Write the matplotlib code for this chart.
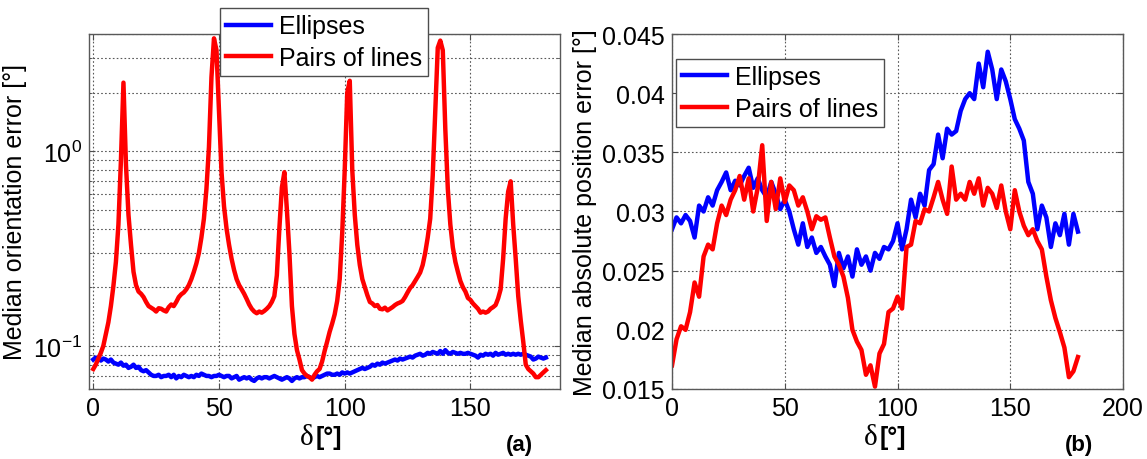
import matplotlib

matplotlib.use("Agg")
import matplotlib.pyplot as plt
import numpy as np
from matplotlib.ticker import FixedLocator, FuncFormatter, LogLocator, NullFormatter

plt.rcParams["font.family"] = ["Liberation Sans", "DejaVu Sans"]
plt.rcParams["mathtext.default"] = "regular"

BLUE, RED = "#0000ff", "#ff0000"
LABELS = ["Ellipses", "Pairs of lines"]

# (a) median orientation error, 1 degree steps
delta_a = np.arange(0, 181, 1)
orient_ellipses = [
    0.085, 0.087, 0.086, 0.084, 0.086, 0.085, 0.083, 0.085, 0.082, 0.081,
    0.080, 0.082, 0.079, 0.080, 0.077, 0.078, 0.080, 0.077, 0.078, 0.075,
    0.074, 0.075, 0.073, 0.071, 0.070, 0.070, 0.071, 0.069, 0.070, 0.070,
    0.071, 0.069, 0.071, 0.068, 0.070, 0.069, 0.071, 0.070, 0.069, 0.070,
    0.069, 0.071, 0.070, 0.072, 0.071, 0.070, 0.070, 0.069, 0.070, 0.070,
    0.071, 0.070, 0.069, 0.070, 0.070, 0.068, 0.069, 0.070, 0.067, 0.068,
    0.069, 0.068, 0.069, 0.067, 0.066, 0.068, 0.069, 0.068, 0.069, 0.069,
    0.068, 0.069, 0.070, 0.069, 0.068, 0.067, 0.068, 0.069, 0.068, 0.066,
    0.068, 0.069, 0.068, 0.069, 0.069, 0.070, 0.069, 0.068, 0.069, 0.070,
    0.069, 0.070, 0.071, 0.072, 0.072, 0.071, 0.071, 0.072, 0.071, 0.073,
    0.072, 0.073, 0.072, 0.073, 0.074, 0.075, 0.076, 0.077, 0.076, 0.077,
    0.078, 0.080, 0.079, 0.081, 0.080, 0.082, 0.081, 0.082, 0.083, 0.084,
    0.085, 0.084, 0.086, 0.085, 0.086, 0.087, 0.088, 0.087, 0.089, 0.090,
    0.091, 0.089, 0.090, 0.092, 0.091, 0.093, 0.092, 0.091, 0.094, 0.091,
    0.095, 0.092, 0.091, 0.093, 0.092, 0.091, 0.092, 0.091, 0.091, 0.092,
    0.091, 0.090, 0.089, 0.087, 0.090, 0.089, 0.091, 0.090, 0.091, 0.089,
    0.092, 0.090, 0.091, 0.092, 0.090, 0.091, 0.090, 0.091, 0.090, 0.091,
    0.090, 0.091, 0.090, 0.089, 0.088, 0.085, 0.086, 0.088, 0.087, 0.086,
    0.087,
]
orient_lines = [
    0.076, 0.080, 0.086, 0.092, 0.100, 0.115, 0.132, 0.160, 0.203, 0.270,
    0.42, 0.90, 2.25, 0.85, 0.47, 0.33, 0.24, 0.205, 0.19, 0.185,
    0.178, 0.168, 0.160, 0.157, 0.154, 0.150, 0.156, 0.155, 0.152, 0.150,
    0.158, 0.163, 0.160, 0.168, 0.178, 0.184, 0.188, 0.195, 0.205, 0.22,
    0.24, 0.265, 0.30, 0.36, 0.45, 0.64, 1.05, 2.4, 3.8, 3.3,
    1.6, 0.78, 0.52, 0.40, 0.33, 0.28, 0.245, 0.22, 0.205, 0.195,
    0.185, 0.174, 0.163, 0.155, 0.150, 0.147, 0.150, 0.148, 0.151, 0.155,
    0.160, 0.168, 0.180, 0.23, 0.40, 0.65, 0.78, 0.50, 0.30, 0.16,
    0.115, 0.095, 0.085, 0.075, 0.072, 0.070, 0.069, 0.067, 0.071, 0.074,
    0.076, 0.083, 0.094, 0.105, 0.118, 0.130, 0.145, 0.170, 0.22, 0.38,
    0.80, 2.0, 2.3, 0.80, 0.47, 0.33, 0.26, 0.22, 0.20, 0.182,
    0.168, 0.165, 0.160, 0.162, 0.155, 0.154, 0.157, 0.152, 0.155, 0.158,
    0.162, 0.165, 0.167, 0.170, 0.178, 0.188, 0.198, 0.205, 0.215, 0.226,
    0.238, 0.26, 0.30, 0.36, 0.45, 0.75, 1.6, 3.4, 3.7, 3.3,
    1.3, 0.64, 0.42, 0.32, 0.27, 0.24, 0.215, 0.20, 0.19, 0.176,
    0.172, 0.165, 0.160, 0.155, 0.148, 0.150, 0.148, 0.150, 0.155, 0.158,
    0.162, 0.175, 0.195, 0.28, 0.45, 0.62, 0.70, 0.42, 0.28, 0.18,
    0.135, 0.105, 0.080, 0.076, 0.074, 0.072, 0.069, 0.069, 0.071, 0.073,
    0.075,
]

# (b) median absolute position error, 2 degree steps
delta_b = np.arange(0, 181, 2)
pos_ellipses = [
    0.0285, 0.0295, 0.0290, 0.0297, 0.0292, 0.0278, 0.0305, 0.0300, 0.0312, 0.0305,
    0.0318, 0.0325, 0.0333, 0.0318, 0.0326, 0.0322, 0.0330, 0.0337, 0.0320, 0.0328,
    0.0318, 0.0312, 0.0325, 0.0315, 0.0302, 0.0310, 0.0300, 0.0285, 0.0272, 0.0290,
    0.0270, 0.0278, 0.0265, 0.0270, 0.0262, 0.0255, 0.0237, 0.0265, 0.0252, 0.0262,
    0.0245, 0.0268, 0.0255, 0.0262, 0.0250, 0.0265, 0.0260, 0.0270, 0.0268, 0.0275,
    0.0290, 0.0268, 0.0285, 0.0310, 0.0295, 0.0315, 0.0305, 0.0335, 0.0340, 0.0365,
    0.0345, 0.0370, 0.0365, 0.0368, 0.0385, 0.0395, 0.0400, 0.0395, 0.0425, 0.0405,
    0.0435, 0.0420, 0.0395, 0.0420, 0.0410, 0.0395, 0.0378, 0.0370, 0.0360, 0.0325,
    0.0315, 0.0285, 0.0305, 0.0295, 0.0270, 0.0290, 0.0280, 0.0298, 0.0272, 0.0298,
    0.0283,
]
pos_lines = [
    0.0170, 0.0192, 0.0203, 0.0200, 0.0215, 0.0240, 0.0228, 0.0262, 0.0272, 0.0268,
    0.0290, 0.0305, 0.0297, 0.0310, 0.0318, 0.0330, 0.0310, 0.0328, 0.0300, 0.0320,
    0.0356, 0.0292, 0.0325, 0.0302, 0.0328, 0.0308, 0.0322, 0.0318, 0.0305, 0.0312,
    0.0300, 0.0285, 0.0296, 0.0293, 0.0295, 0.0278, 0.0262, 0.0255, 0.0245, 0.0227,
    0.0200, 0.0190, 0.0183, 0.0162, 0.0170, 0.0152, 0.0180, 0.0188, 0.0215, 0.0218,
    0.0228, 0.0218, 0.0270, 0.0272, 0.0292, 0.0290, 0.0302, 0.0300, 0.0312, 0.0325,
    0.0310, 0.0298, 0.0338, 0.0310, 0.0315, 0.0310, 0.0325, 0.0315, 0.0328, 0.0305,
    0.0320, 0.0315, 0.0303, 0.0322, 0.0300, 0.0285, 0.0318, 0.0300, 0.0288, 0.0280,
    0.0285, 0.0275, 0.0268, 0.0245, 0.0225, 0.0210, 0.0198, 0.0185, 0.0160, 0.0165,
    0.0177,
]

fig = plt.figure(figsize=(11.47, 4.6), dpi=100)
ax_a = fig.add_axes([0.0776, 0.1522, 0.4106, 0.7717])
ax_b = fig.add_axes([0.5859, 0.1522, 0.3932, 0.7717])

grid_kw = dict(color="0.35", linestyle=(0, (1.5, 2)), linewidth=0.8)
legend_kw = dict(loc="upper left", bbox_transform=fig.transFigure, borderaxespad=0,
                 fontsize=18, fancybox=False, framealpha=1, edgecolor="0.3",
                 handlelength=1.8, handletextpad=0.3, labelspacing=0.3, borderpad=0.25)

for ax in (ax_a, ax_b):
    ax.tick_params(direction="in", top=True, right=True, labelsize=18, length=4,
                   color="0.3", pad=5)
    ax.tick_params(which="minor", direction="in", right=True, length=2, color="0.3")
    for sp in ax.spines.values():
        sp.set_color("0.35")
        sp.set_linewidth(1.0)
    ax.set_axisbelow(True)

# panel (a)
ax_a.plot(delta_a, orient_ellipses, color=BLUE, lw=3.2, label=LABELS[0])
ax_a.plot(delta_a, orient_lines, color=RED, lw=3.2, label=LABELS[1])
ax_a.set_yscale("log")
ax_a.set_xlim(-1.7, 185.6)
ax_a.set_ylim(0.06, 4.0)
ax_a.xaxis.set_major_locator(FixedLocator([0, 50, 100, 150]))
ax_a.yaxis.set_major_locator(FixedLocator([0.1, 1.0]))
ax_a.yaxis.set_minor_locator(LogLocator(base=10, subs=np.arange(2, 10)))
ax_a.yaxis.set_minor_formatter(NullFormatter())
ax_a.yaxis.set_major_formatter(FuncFormatter(lambda v, _: "$10^{%d}$" % round(np.log10(v))))
ax_a.grid(True, which="major", **grid_kw)
ax_a.grid(True, which="minor", axis="y", **grid_kw)
ax_a.set_ylabel("Median orientation error [°]", fontsize=18, labelpad=4)
ax_a.legend(bbox_to_anchor=(0.1918, 0.9804), **legend_kw)

# panel (b)
ax_b.plot(delta_b, pos_ellipses, color=BLUE, lw=3.2, label=LABELS[0])
ax_b.plot(delta_b, pos_lines, color=RED, lw=3.2, label=LABELS[1])
ax_b.set_xlim(0, 200)
ax_b.set_ylim(0.015, 0.045)
ax_b.set_xticks([0, 50, 100, 150, 200])
ax_b.set_yticks([0.015, 0.02, 0.025, 0.03, 0.035, 0.04, 0.045])
ax_b.yaxis.set_major_formatter(FuncFormatter(lambda v, _: "%g" % v))
ax_b.grid(True, **grid_kw)
ax_b.set_ylabel("Median absolute position error [°]", fontsize=18, labelpad=4)
ax_b.legend(bbox_to_anchor=(0.5894, 0.8696), **legend_kw)

# x labels: serif delta with bold degree unit, plus panel tags
for ax, xc in ((ax_a, 0.476), (ax_b, 0.455)):
    ax.text(xc, -0.135, "δ", transform=ax.transAxes, ha="right", va="center",
            fontsize=21, family=["Liberation Serif", "DejaVu Serif"])
    ax.text(xc + 0.006, -0.135, "[°]", transform=ax.transAxes, ha="left", va="center",
            fontsize=18, fontweight="bold")
ax_a.text(0.913, -0.155, "(a)", transform=ax_a.transAxes, ha="center", va="center",
          fontsize=16, fontweight="bold")
ax_b.text(0.903, -0.155, "(b)", transform=ax_b.transAxes, ha="center", va="center",
          fontsize=16, fontweight="bold")

fig.savefig("out.png", dpi=100)
